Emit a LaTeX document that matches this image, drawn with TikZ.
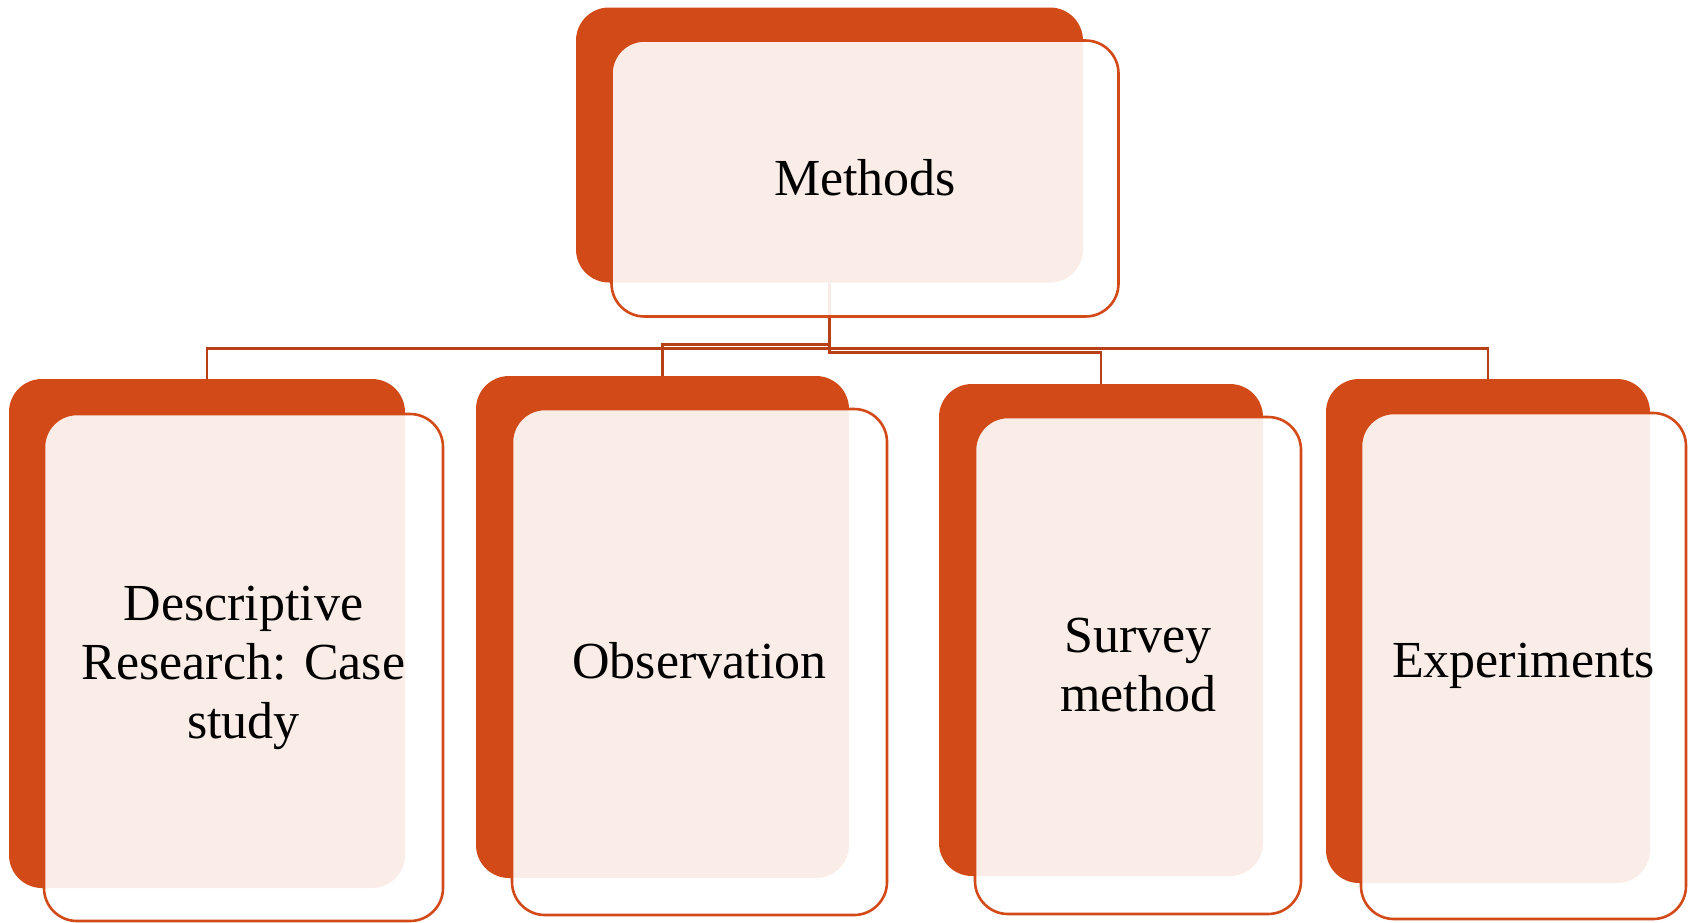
\documentclass[tikz,border=0pt]{standalone}
\usepackage{fontspec}
\setmainfont{Liberation Serif}
\definecolor{accent}{RGB}{210,74,24}
\definecolor{connc}{RGB}{184,64,22}
\pgfdeclarelayer{background}
\pgfsetlayers{background,main}
\begin{document}
\begin{tikzpicture}[x=1pt,y=-1pt,
  back/.style={rectangle, rounded corners=33pt, fill=accent, inner sep=0pt, outer sep=0pt},
  front/.style={rectangle, rounded corners=33pt, draw=accent, line width=2.6pt, fill=white, fill opacity=0.9, text opacity=1, inner sep=0pt, outer sep=0pt, align=center, font=\fontsize{52}{59}\selectfont},
  conn/.style={draw=connc, line width=2.8pt}]
\useasboundingbox (0,0) rectangle (1694,922);
% back (dark) boxes
\node[back, minimum width=507pt, minimum height=275pt] (td) at (829.5,145) {};
\node[back, minimum width=396pt, minimum height=509pt] (d1) at (207,633.5) {};
\node[back, minimum width=373pt, minimum height=502pt] (d2) at (662.5,627) {};
\node[back, minimum width=324pt, minimum height=492pt] (d3) at (1101,630) {};
\node[back, minimum width=324pt, minimum height=504pt] (d4) at (1488,631) {};
% front boxes with text
\node[front, minimum width=507pt, minimum height=276pt] (tf) at (865,178.5) {\raisebox{3pt}{Methods}};
\node[front, minimum width=399pt, minimum height=507pt] (f1) at (243.5,667.5) {Descriptive\\Research: Case\\study};
\node[front, minimum width=375pt, minimum height=506pt] (f2) at (699.5,662) {\raisebox{3pt}{Observation}};
\node[front, minimum width=326pt, minimum height=497pt] (f3) at (1138,665.5) {Survey\\method};
\node[front, minimum width=325pt, minimum height=506pt] (f4) at (1523.5,666) {Experiments};
% connectors
\begin{pgfonlayer}{background}
\draw[conn] (td.south) -- ++(0,66) -| (d1.north);
\draw[conn] (td.south) -- ++(0,66) -| (d4.north);
\draw[conn] (td.south) -- ++(0,62) -| (d2.north);
\draw[conn] (td.south) -- ++(0,70) -| (d3.north);
\end{pgfonlayer}
\end{tikzpicture}
\end{document}
